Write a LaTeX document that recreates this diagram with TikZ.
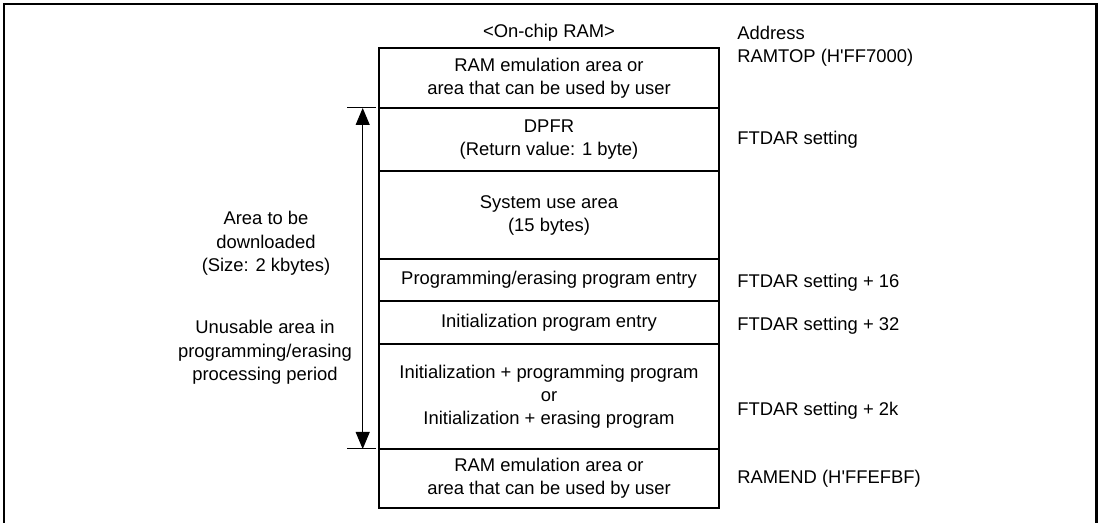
\documentclass[tikz,border=0pt]{standalone}
\usepackage{fontspec}
\setmainfont{Liberation Sans}
\usetikzlibrary{arrows.meta}
\begin{document}
\begin{tikzpicture}[x=0.75pt,y=-0.75pt,
  txt/.style={font=\fontsize{13.8}{17.6}\selectfont, inner sep=0pt, align=center},
  rtxt/.style={font=\fontsize{13.8}{17.6}\selectfont, inner sep=0pt, anchor=west},
  cell/.style={draw, line width=1.3pt, minimum width=255pt, inner sep=0pt, outer sep=0pt,
    font=\fontsize{13.8}{17.25}\selectfont, align=center},
  frame/.style={line width=1.9pt},
  thinline/.style={line width=0.75pt},
  dimarrow/.style={line width=0.75pt, {Triangle[width=10.5pt,length=12.75pt]}-{Triangle[width=10.5pt,length=12.75pt]}}
]
\useasboundingbox (0,0) rectangle (1100,523);
% frame (open at the bottom)
\coordinate (fbl) at (4,523);
\coordinate (ftl) at (4,4);
\coordinate (ftr) at (1096.5,4);
\coordinate (fbr) at (1096.5,523);
\draw[frame] (fbl) -- (ftl) -- (ftr) -- (fbr);

% memory cells
\node[cell, minimum height=45pt]    (c1) at (549,78)     {RAM emulation area or\\area that can be used by user};
\node[cell, minimum height=47.25pt] (c2) at (549,139.5)  {DPFR\\(Return value: 1 byte)};
\node[cell, minimum height=66pt]    (c3) at (549,215)    {System use area\\(15 bytes)};
\node[cell, minimum height=31.3pt]  (c4) at (549,279.85) {Programming/erasing program entry};
\node[cell, minimum height=32.5pt]  (c5) at (549,322.35) {Initialization program entry};
\node[cell, minimum height=78.75pt] (c6) at (549,396.5)  {Initialization + programming program\\or\\Initialization + erasing program};
\node[cell, minimum height=44.25pt] (c7) at (549,478.5)  {RAM emulation area or\\area that can be used by user};

% header texts
\node[txt] (hdr) at (549,33) {<On-chip RAM>};
\node[rtxt] (addr) at (737,33) {Address};
\node[rtxt] (a1) at (737,58) {RAMTOP (H\textquotesingle FF7000)};
\node[rtxt] (a2) at (737,140) {FTDAR setting};
\node[rtxt] (a3) at (737,283) {FTDAR setting + 16};
\node[rtxt] (a4) at (737,326) {FTDAR setting + 32};
\node[rtxt] (a5) at (737,411) {FTDAR setting + 2k};
\node[rtxt] (a6) at (737,479) {RAMEND (H\textquotesingle FFEFBF)};

% dimension arrow
\coordinate (t1l) at (347,108);
\coordinate (t1r) at (376,108);
\coordinate (t2l) at (347,449);
\coordinate (t2r) at (376,449);
\coordinate (arrtop) at (362.7,108);
\coordinate (arrbot) at (362.7,449);
\draw[thinline] (t1l) -- (t1r);
\draw[thinline] (t2l) -- (t2r);
\draw[dimarrow] (arrtop) -- (arrbot);

% left labels
\node[txt] (lab1) at (266,243.5) {Area to be\\downloaded\\(Size: 2 kbytes)};
\node[txt] (lab2) at (265,352.5) {Unusable area in\\programming/erasing\\processing period};
\end{tikzpicture}
\end{document}
